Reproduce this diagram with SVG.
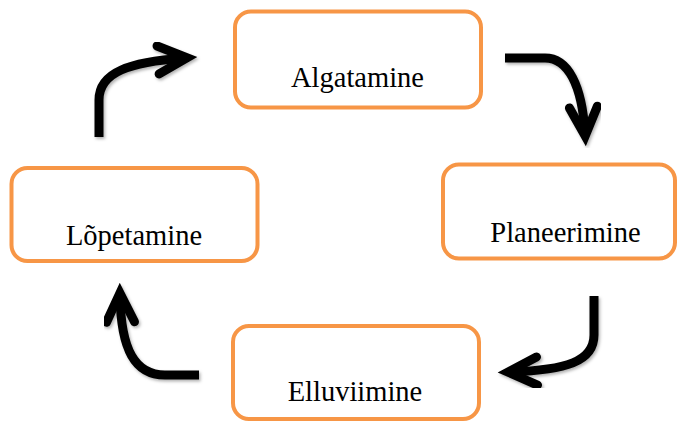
<svg xmlns="http://www.w3.org/2000/svg" width="680" height="421" viewBox="0 0 680 421">
  <style>
    .box { fill: #ffffff; stroke: #F79646; stroke-width: 4; }
    .label { font-family: 'Liberation Serif', 'Times New Roman', Times, serif; font-size: 28.5px; fill: #000000; text-anchor: middle; }
    .flow { fill: none; stroke: #000000; stroke-width: 9; stroke-linecap: butt; stroke-linejoin: round; marker-end: url(#chevron); filter: url(#shade); }
  </style>
  <defs>
    <filter id="shade" x="-20%" y="-20%" width="140%" height="140%">
      <feDropShadow dx="1.5" dy="2" stdDeviation="1.5" flood-color="#000000" flood-opacity="0.3"/>
    </filter>
    <marker id="chevron" markerUnits="userSpaceOnUse" orient="auto" markerWidth="60" markerHeight="60" viewBox="-40 -30 60 60" refX="0" refY="0" overflow="visible">
      <path d="M-26,-14 L3,0 L-26,14" fill="none" stroke="#000000" stroke-width="9" stroke-linecap="round" stroke-linejoin="miter" stroke-miterlimit="4"/>
    </marker>
  </defs>

  <g id="node-algatamine">
    <rect class="box" x="235" y="11.5" width="246" height="96" rx="16" ry="16"/>
    <text class="label" font-family="Liberation Serif, serif" x="357.5" y="87">Algatamine</text>
  </g>

  <g id="node-planeerimine">
    <rect class="box" x="443" y="164.5" width="232" height="94" rx="16" ry="16"/>
    <text class="label" font-family="Liberation Serif, serif" x="565.5" y="242">Planeerimine</text>
  </g>

  <g id="node-elluviimine">
    <rect class="box" x="233" y="326" width="246" height="93" rx="16" ry="16"/>
    <text class="label" font-family="Liberation Serif, serif" x="355" y="401">Elluviimine</text>
  </g>

  <g id="node-lopetamine">
    <rect class="box" x="11.5" y="168" width="246" height="93" rx="16" ry="16"/>
    <text class="label" font-family="Liberation Serif, serif" x="134" y="245">Lõpetamine</text>
  </g>

  <g id="connectors">
    <path class="flow" d="M505,58 L545,58 C568,58 582,85 585,133"/>
    <path class="flow" d="M594,296 L594,335 C594,362 565,370 511,372"/>
    <path class="flow" d="M199,375 L165,375 C135,375 121,350 120,296"/>
    <path class="flow" d="M99,137 L99,100 C99,72 130,62 184,58"/>
  </g>
</svg>
